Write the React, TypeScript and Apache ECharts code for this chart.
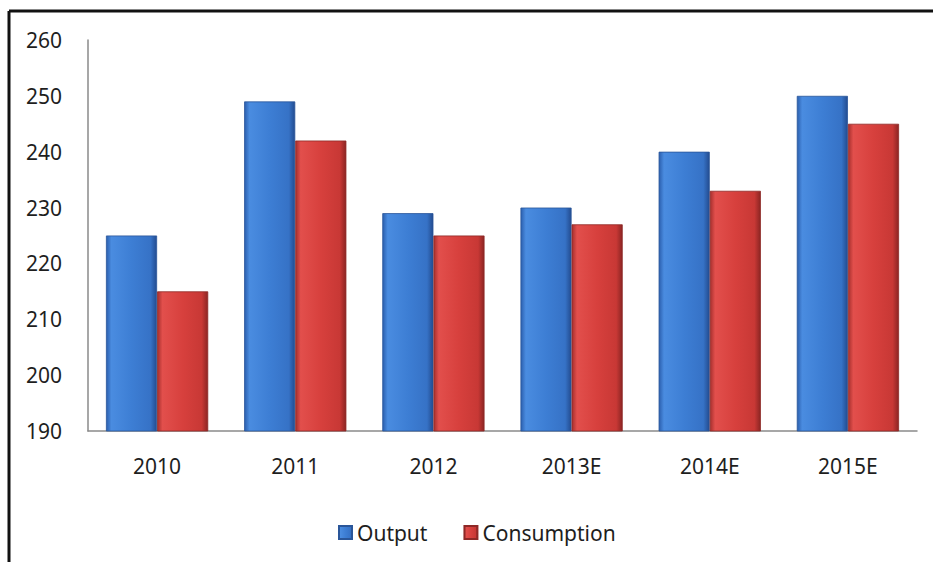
import React, { useEffect, useRef } from "react";
import * as echarts from "echarts";

const categories = ["2010", "2011", "2012", "2013E", "2014E", "2015E"];
const outputValues = [225, 249, 229, 230, 240, 250];
const consumptionValues = [215, 242, 225, 227, 233, 245];
const yMin = 190;
const yMax = 260;
const yInterval = 10;

const FONT = "'Noto Sans', 'Liberation Sans', sans-serif";

export default function App() {
  const ref = useRef<HTMLDivElement>(null);
  useEffect(() => {
    document.body.style.margin = "0";
    if (!ref.current) return;
    const chart = echarts.init(ref.current, null, { renderer: "svg" });
    const blue = new echarts.graphic.LinearGradient(0, 0, 1, 0, [
      { offset: 0, color: "#2b5fae" },
      { offset: 0.1, color: "#4a8ce0" },
      { offset: 0.5, color: "#3d7ed4" },
      { offset: 0.88, color: "#3672c6" },
      { offset: 1, color: "#234c90" },
    ]);
    const red = new echarts.graphic.LinearGradient(0, 0, 1, 0, [
      { offset: 0, color: "#a62f2d" },
      { offset: 0.1, color: "#e24f4c" },
      { offset: 0.5, color: "#d7403d" },
      { offset: 0.88, color: "#c83835" },
      { offset: 1, color: "#8c2523" },
    ]);
    chart.setOption({
      animation: false,
      backgroundColor: "#ffffff",
      textStyle: { fontFamily: FONT },
      grid: { left: 88, right: 16, top: 40, bottom: 131, containLabel: false },
      graphic: [
        { type: "line", shape: { x1: 9, y1: 11, x2: 933, y2: 11 }, style: { stroke: "#111", lineWidth: 3 } },
        { type: "line", shape: { x1: 9, y1: 11, x2: 9, y2: 562 }, style: { stroke: "#111", lineWidth: 3 } },
      ],
      legend: {
        left: 333,
        top: 517,
        icon: "rect",
        itemWidth: 13,
        itemHeight: 13,
        itemGap: 36,
        textStyle: { fontSize: 21, color: "#1e1e1e", fontFamily: FONT },
        data: ["Output", "Consumption"],
      },
      xAxis: {
        type: "category",
        data: categories,
        axisLine: { lineStyle: { color: "#8a8a8a", width: 1.5 } },
        axisTick: { show: false },
        axisLabel: { fontSize: 21, color: "#1e1e1e", margin: 24, fontFamily: FONT },
      },
      yAxis: {
        type: "value",
        min: yMin,
        max: yMax,
        interval: yInterval,
        axisLine: { show: true, lineStyle: { color: "#8a8a8a", width: 1.5 } },
        axisTick: { show: false },
        splitLine: { show: false },
        axisLabel: { fontSize: 21, color: "#1e1e1e", margin: 26, fontFamily: FONT },
      },
      series: [
        {
          name: "Output",
          type: "bar",
          data: outputValues,
          barGap: "0%",
          barCategoryGap: "26%",
          itemStyle: { color: blue, borderColor: "#2a5699", borderWidth: 0.8 },
        },
        {
          name: "Consumption",
          type: "bar",
          data: consumptionValues,
          barGap: "0%",
          barCategoryGap: "26%",
          itemStyle: { color: red, borderColor: "#8e2826", borderWidth: 0.8 },
        },
      ],
    });
    return () => chart.dispose();
  }, []);
  return <div ref={ref} style={{ width: 933, height: 562 }} />;
}
